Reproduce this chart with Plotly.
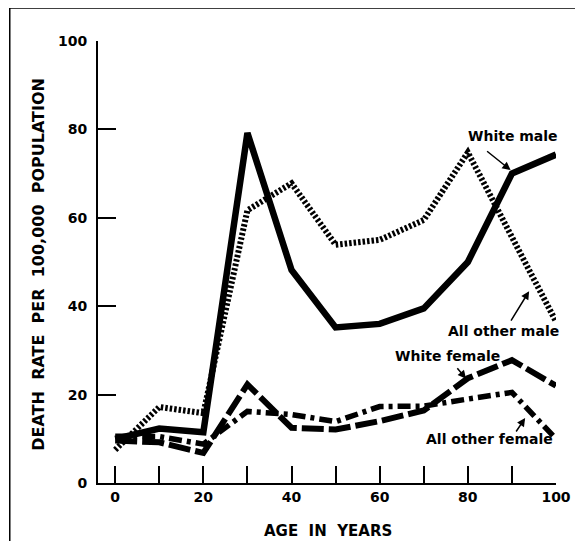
import plotly.graph_objects as go

# ---- data ----
age = [0, 10, 20, 30, 40, 50, 60, 70, 80, 90, 100]
white_male = [10.0, 12.3, 11.5, 79.2, 48.2, 35.2, 36.0, 39.5, 50.0, 70.0, 74.3]
other_male = [7.5, 17.2, 15.8, 61.7, 67.8, 53.9, 55.0, 59.5, 74.8, 56.0, 36.5]
white_female = [9.6, 9.2, 6.8, 22.3, 12.5, 12.1, 14.0, 16.4, 23.7, 27.8, 22.0]
other_female = [10.6, 10.5, 8.8, 16.2, 15.5, 13.9, 17.3, 17.4, 19.0, 20.5, 10.0]

x_major = [0, 20, 40, 60, 80, 100]
y_major = [0, 20, 40, 60, 80, 100]

labels = ["White male", "All other male", "White female", "All other female"]
label_pos = [(90.3, 78.5), (88.1, 34.4), (75.3, 28.7), (85.0, 10.0)]
arrow_heads = [(89.7, 70.8), (93.9, 43.4), (79.6, 23.6), (93.0, 14.7)]
arrow_tails = [(-25, -20), (-19, 31), (-10, -12), (-10, 15)]

# page body has an 8px margin: the figure starts at page (8, 8)
OFF = 8
W, H = 575, 533
ML, MR, MT, MB = 90, 22, 33, 58
FONT = "DejaVu Sans"

pw = W - ML - MR
ph = H - MT - MB


def px_to_paper(px, py):
    """page pixel -> paper coords"""
    fx = px - OFF
    fy = py - OFF
    return (fx - ML) / pw, (H - MB - fy) / ph


fig = go.Figure()

fig.add_trace(go.Scatter(x=age, y=white_male, mode="lines",
                         line=dict(color="black", width=6.5), name="White male"))
fig.add_trace(go.Scatter(x=age, y=other_male, mode="lines",
                         line=dict(color="black", width=6, dash="2.5px,2px"), name="All other male"))
fig.add_trace(go.Scatter(x=age, y=white_female, mode="lines",
                         line=dict(color="black", width=6, dash="22px,5px"), name="White female"))
fig.add_trace(go.Scatter(x=age, y=other_female, mode="lines",
                         line=dict(color="black", width=5.5, dash="13px,5px,4px,5px"), name="All other female"))

for t, (lx, ly) in zip(labels, label_pos):
    fig.add_annotation(x=lx, y=ly, text=t, showarrow=False, xanchor="center", yanchor="middle",
                       font=dict(family=FONT, size=14, color="black", weight="bold"))

for (hx, hy), (ax, ay) in zip(arrow_heads, arrow_tails):
    fig.add_annotation(x=hx, y=hy, ax=ax, ay=ay, text="", showarrow=True,
                       arrowhead=2, arrowsize=1.1, arrowwidth=1.5, arrowcolor="black")

# axis titles
tx, ty = px_to_paper(37, 264)
fig.add_annotation(xref="paper", yref="paper", x=tx, y=ty, xanchor="center", yanchor="middle",
                   text="DEATH\u00a0\u00a0RATE\u00a0\u00a0PER\u00a0\u00a0100,000\u00a0\u00a0POPULATION",
                   textangle=-90, showarrow=False,
                   font=dict(family=FONT, size=16, color="black", weight="bold"))
tx, ty = px_to_paper(331, 531)
fig.add_annotation(xref="paper", yref="paper", x=tx, y=ty, xanchor="center", yanchor="middle",
                   text="AGE\u00a0\u00a0IN\u00a0\u00a0YEARS", showarrow=False,
                   font=dict(family=FONT, size=15, color="black", weight="bold"))

# frame (top and left edges of the scanned box)
x_left, y_top = px_to_paper(8.8, 7.8)
x_right, y_bot = px_to_paper(583, 557)
fig.add_shape(type="line", xref="paper", yref="paper", x0=x_left, x1=x_right, y0=y_top, y1=y_top,
              line=dict(color="black", width=2))
fig.add_shape(type="line", xref="paper", yref="paper", x0=x_left, x1=x_left, y0=y_top, y1=y_bot,
              line=dict(color="black", width=1.5))

fig.update_layout(
    width=W, height=H, autosize=False,
    margin=dict(l=ML, r=MR, t=MT, b=MB),
    paper_bgcolor="white", plot_bgcolor="white",
    showlegend=False,
    font=dict(family=FONT, color="black"),
)

fig.update_xaxes(range=[-3.9, 100], tickvals=x_major, ticktext=[str(v) for v in x_major],
                 showline=True, linecolor="black", linewidth=2,
                 ticks="inside", ticklen=17, tickwidth=1.8, tickcolor="black",
                 minor=dict(dtick=10, tick0=0, ticks="inside", ticklen=17, tickwidth=1.8, tickcolor="black"),
                 showgrid=False, zeroline=False,
                 tickfont=dict(family=FONT, size=14, color="black", weight="bold"))
fig.update_yaxes(range=[0, 100], tickvals=y_major, ticktext=[str(v) for v in y_major],
                 showline=True, linecolor="black", linewidth=2,
                 ticks="inside", ticklen=18, tickwidth=1.8, tickcolor="black",
                 ticklabelstandoff=6,
                 showgrid=False, zeroline=False,
                 tickfont=dict(family=FONT, size=14, color="black", weight="bold"))

fig.write_html("out.html", config={"displayModeBar": False})
